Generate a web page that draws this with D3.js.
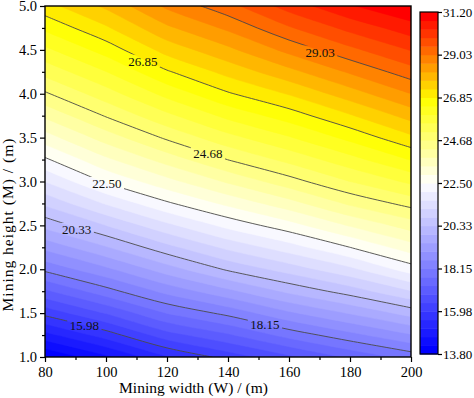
<!DOCTYPE html>
<html>
<head>
<meta charset="utf-8">
<script src="https://cdn.jsdelivr.net/npm/d3@7"></script>
<style>
body { margin: 0; background: #fff; }
text { font-family: "Liberation Serif", "Times New Roman", serif; }
</style>
</head>
<body>
<svg id="chart" width="474" height="398"></svg>
<script>
var widths = [80, 100, 120, 140, 160, 180, 200]
var heights = [1.0, 1.25, 1.5, 1.75, 2.0, 2.25, 2.5, 2.75, 3.0, 3.25, 3.5, 3.75, 4.0, 4.25, 4.5, 4.75, 5.0]

// one list per mining width, values from height 1.0 up to 5.0
var v80  = [13.80, 14.95, 16.12, 17.20, 18.26, 19.14, 20.03, 20.85, 21.64, 22.43, 23.17, 23.89, 24.62, 25.26, 25.88, 26.51, 27.12]
var v100 = [14.57, 15.75, 16.87, 17.98, 18.92, 19.85, 20.76, 21.67, 22.56, 23.28, 24.00, 24.72, 25.35, 25.97, 26.60, 27.22, 27.81]
var v120 = [15.50, 16.66, 17.73, 18.72, 19.68, 20.62, 21.52, 22.43, 23.22, 23.99, 24.76, 25.44, 26.12, 26.80, 27.45, 28.07, 28.68]
var v140 = [16.15, 17.22, 18.28, 19.34, 20.40, 21.30, 22.20, 23.04, 23.87, 24.69, 25.40, 26.10, 26.80, 27.43, 28.05, 28.68, 29.31]
var v160 = [16.75, 17.88, 18.94, 19.99, 20.95, 21.87, 22.76, 23.63, 24.50, 25.24, 25.94, 26.63, 27.32, 28.02, 28.72, 29.41, 30.08]
var v180 = [17.36, 18.44, 19.49, 20.53, 21.52, 22.50, 23.41, 24.32, 25.11, 25.82, 26.54, 27.24, 27.95, 28.65, 29.35, 30.03, 30.72]
var v200 = [17.89, 18.98, 20.06, 21.17, 22.28, 23.17, 24.01, 24.84, 25.64, 26.44, 27.19, 27.89, 28.59, 29.27, 29.92, 30.57, 31.20]
var columns = [v80, v100, v120, v140, v160, v180, v200]

var lineLevels = [15.98, 18.15, 20.33, 22.50, 24.68, 26.85, 29.03]
var barTicks = [13.80, 15.98, 18.15, 20.33, 22.50, 24.68, 26.85, 29.03, 31.20]
var xTicks = [80, 100, 120, 140, 160, 180, 200]
var xMinor = [90, 110, 130, 150, 170, 190]
var yTicks = [1.0, 1.5, 2.0, 2.5, 3.0, 3.5, 4.0, 4.5, 5.0]
var yMinor = [1.25, 1.75, 2.25, 2.75, 3.25, 3.75, 4.25, 4.75]
var lineLabels = [
	{level: 29.03, w: 170.2, h: 4.476},
	{level: 26.85, w: 112.1, h: 4.373},
	{level: 24.68, w: 133.4, h: 3.32},
	{level: 22.50, w: 100.3, h: 2.98},
	{level: 20.33, w: 90.4, h: 2.455},
	{level: 18.15, w: 152.1, h: 1.376},
	{level: 15.98, w: 92.9, h: 1.357}]

var VMIN = 13.80, VMAX = 31.20, NBANDS = 40
var LINE_COLOR = '#4a4a4a',
	FONT = '"Liberation Serif", "Times New Roman", serif'

var svg = d3.select('#chart')
var plot = {left: 45, right: 411, top: 6, bottom: 357}

var x = d3.scaleLinear().domain([80, 200]).range([plot.left, plot.right])
var y = d3.scaleLinear().domain([1, 5]).range([plot.bottom, plot.top])

var color = d3.scaleLinear()
	.domain([13.80, 22.50, 26.85, 31.20])
	.range(['#0000ff', '#ffffff', '#ffff00', '#ff0000'])

// band thresholds and band colours (first band blue, last band red)
var step = (VMAX - VMIN) / NBANDS
var bands = d3.range(NBANDS).map(function(i){
	return {lo: VMIN + i * step, hi: VMIN + (i + 1) * step, fill: color(VMIN + i * (VMAX - VMIN) / (NBANDS - 1))}
})

// grid values, row by row (height), for d3.contours
var nx = widths.length, ny = heights.length
var values = []
heights.forEach(function(h, j){
	columns.forEach(function(col){ values.push(col[j]) })
})

// grid index -> pixel
var gx = d3.scaleLinear().domain([0.5, nx - 0.5]).range([x(widths[0]), x(widths[nx - 1])])
var gy = d3.scaleLinear().domain([0.5, ny - 0.5]).range([y(heights[0]), y(heights[ny - 1])])

var inside = function(p){
	var e = 1e-6
	return p[0] >= 0.5 - e && p[0] <= nx - 0.5 + e && p[1] >= 0.5 - e && p[1] <= ny - 0.5 + e
}
var px = function(p){ return gx(p[0]) + ',' + gy(p[1]) }
var smoothOpen = d3.line()
	.x(function(p){ return gx(p[0]) })
	.y(function(p){ return gy(p[1]) })
	.curve(d3.curveCatmullRom.alpha(0.5))
var smoothClosed = d3.line()
	.x(function(p){ return gx(p[0]) })
	.y(function(p){ return gy(p[1]) })
	.curve(d3.curveCatmullRomClosed.alpha(0.5))

// smooth the contour runs inside the sample area, keep the frame part straight
var ringPath = function(ring){
	var pts = ring.slice(0, ring.length - 1)
	var start = pts.findIndex(function(p){ return !inside(p) })
	if (start < 0) return smoothClosed(pts)
	pts = pts.slice(start).concat(pts.slice(0, start))
	var s = 'M' + px(pts[0]), run = []
	var flush = function(){
		if (run.length > 1) s += smoothOpen(run).replace(/^M/, 'L')
		else if (run.length == 1) s += 'L' + px(run[0])
		run = []
	}
	pts.forEach(function(p, i){
		if (i == 0) return
		if (inside(p)) run.push(p)
		else { flush(); s += 'L' + px(p) }
	})
	flush()
	return s + 'Z'
}
var contourPath = function(d){
	var s = ''
	d.coordinates.forEach(function(poly){
		poly.forEach(function(ring){ s += ringPath(ring) })
	})
	return s
}

var defs = svg.append('defs')
defs.append('clipPath').attr('id', 'plotClip')
	.append('rect')
		.attr('x', plot.left).attr('y', plot.top)
		.attr('width', plot.right - plot.left).attr('height', plot.bottom - plot.top)

var fillLayer = svg.append('g').attr('clip-path', 'url(#plotClip)')

fillLayer.append('rect')
	.attr('x', plot.left).attr('y', plot.top)
	.attr('width', plot.right - plot.left).attr('height', plot.bottom - plot.top)
	.attr('fill', bands[0].fill)

var fillContours = d3.contours().size([nx, ny])
	.thresholds(bands.slice(1).map(function(b){ return b.lo }))(values)

fillLayer.selectAll('path.band')
	.data(fillContours)
	.enter().append('path')
		.attr('class', 'band')
		.attr('d', contourPath)
		.attr('fill-rule', 'evenodd')
		.attr('fill', function(d, i){ return bands[i + 1].fill })
		.attr('stroke', function(d, i){ return bands[i + 1].fill })
		.attr('stroke-width', 0.5)

// contour labels first so their boxes can cut the lines
var labelLayer = svg.append('g')
labelLayer.selectAll('text')
	.data(lineLabels)
	.enter().append('text')
		.attr('x', function(d){ return x(d.w) })
		.attr('y', function(d){ return y(d.h) })
		.attr('dy', '0.35em')
		.attr('text-anchor', 'middle')
		.attr('font-size', 13)
		.attr('fill', '#111')
		.text(function(d){ return d.level.toFixed(2) })

var mask = defs.append('mask').attr('id', 'labelMask')
	.attr('maskUnits', 'userSpaceOnUse')
	.attr('x', 0).attr('y', 0).attr('width', 474).attr('height', 398)
mask.append('rect').attr('width', 474).attr('height', 398).attr('fill', '#fff')
labelLayer.selectAll('text').each(function(){
	var b = this.getBBox()
	mask.append('rect')
		.attr('x', b.x - 2.5).attr('y', b.y + 1)
		.attr('width', b.width + 5).attr('height', b.height - 2)
		.attr('fill', '#000')
})

var lineContours = d3.contours().size([nx, ny]).thresholds(lineLevels)(values)

svg.append('g')
	.attr('clip-path', 'url(#plotClip)')
	.append('g')
		.attr('mask', 'url(#labelMask)')
	.selectAll('path')
	.data(lineContours)
	.enter().append('path')
		.attr('d', contourPath)
		.attr('fill', 'none')
		.attr('stroke', LINE_COLOR)
		.attr('stroke-width', 0.9)

labelLayer.raise()

// axes
svg.append('g')
	.attr('transform', 'translate(0,' + plot.bottom + ')')
	.call(d3.axisBottom(x).tickValues(xTicks).tickSize(5).tickPadding(5).tickSizeOuter(0))
svg.append('g')
	.attr('transform', 'translate(0,' + plot.bottom + ')')
	.call(d3.axisBottom(x).tickValues(xMinor).tickSize(3).tickFormat('').tickSizeOuter(0))

svg.append('g')
	.attr('transform', 'translate(' + plot.left + ',0)')
	.call(d3.axisLeft(y).tickValues(yTicks).tickSize(5).tickPadding(3).tickFormat(d3.format('.1f')).tickSizeOuter(0))
svg.append('g')
	.attr('transform', 'translate(' + plot.left + ',0)')
	.call(d3.axisLeft(y).tickValues(yMinor).tickSize(3).tickFormat('').tickSizeOuter(0))

svg.selectAll('.domain').remove()
svg.selectAll('.tick line').attr('stroke', '#000').attr('stroke-width', 1.2)
svg.selectAll('.tick text')
	.attr('font-family', FONT)
	.attr('font-size', 14.5)
	.attr('fill', '#000')

svg.append('rect')
	.attr('x', plot.left).attr('y', plot.top)
	.attr('width', plot.right - plot.left).attr('height', plot.bottom - plot.top)
	.attr('fill', 'none')
	.attr('stroke', '#000')
	.attr('stroke-width', 1.4)

svg.append('text')
	.attr('x', 193.5)
	.attr('y', 393)
	.attr('text-anchor', 'middle')
	.attr('font-size', 15.5)
	.attr('textLength', 149)
	.attr('lengthAdjust', 'spacing')
	.text('Mining width (W) / (m)')

svg.append('text')
	.attr('transform', 'translate(13,225) rotate(-90)')
	.attr('text-anchor', 'middle')
	.attr('font-size', 15.5)
	.attr('textLength', 173)
	.attr('lengthAdjust', 'spacing')
	.text('Mining height (M) / (m)')

// colour bar
var bar = {left: 420, right: 438, top: 12, bottom: 354}
var cy = d3.scaleLinear().domain([VMIN, VMAX]).range([bar.bottom, bar.top])

var barLayer = svg.append('g')
barLayer.selectAll('rect.band')
	.data(bands)
	.enter().append('rect')
		.attr('class', 'band')
		.attr('x', bar.left)
		.attr('width', bar.right - bar.left)
		.attr('y', function(d){ return cy(d.hi) })
		.attr('height', function(d){ return cy(d.lo) - cy(d.hi) + 0.5 })
		.attr('fill', function(d){ return d.fill })

barLayer.append('rect')
	.attr('x', bar.left).attr('y', bar.top)
	.attr('width', bar.right - bar.left).attr('height', bar.bottom - bar.top)
	.attr('fill', 'none')
	.attr('stroke', '#000')
	.attr('stroke-width', 1.2)

barLayer.append('g')
	.attr('transform', 'translate(' + bar.right + ',0)')
	.call(d3.axisRight(cy).tickValues(barTicks).tickSize(4).tickPadding(1).tickFormat(d3.format('.2f')).tickSizeOuter(0))
	.each(function(){
		d3.select(this).select('.domain').remove()
		d3.select(this).selectAll('line').attr('stroke', '#000').attr('stroke-width', 1.2)
		d3.select(this).selectAll('text')
			.attr('font-family', FONT)
			.attr('font-size', 13)
			.attr('fill', '#000')
	})
</script>
</body>
</html>
